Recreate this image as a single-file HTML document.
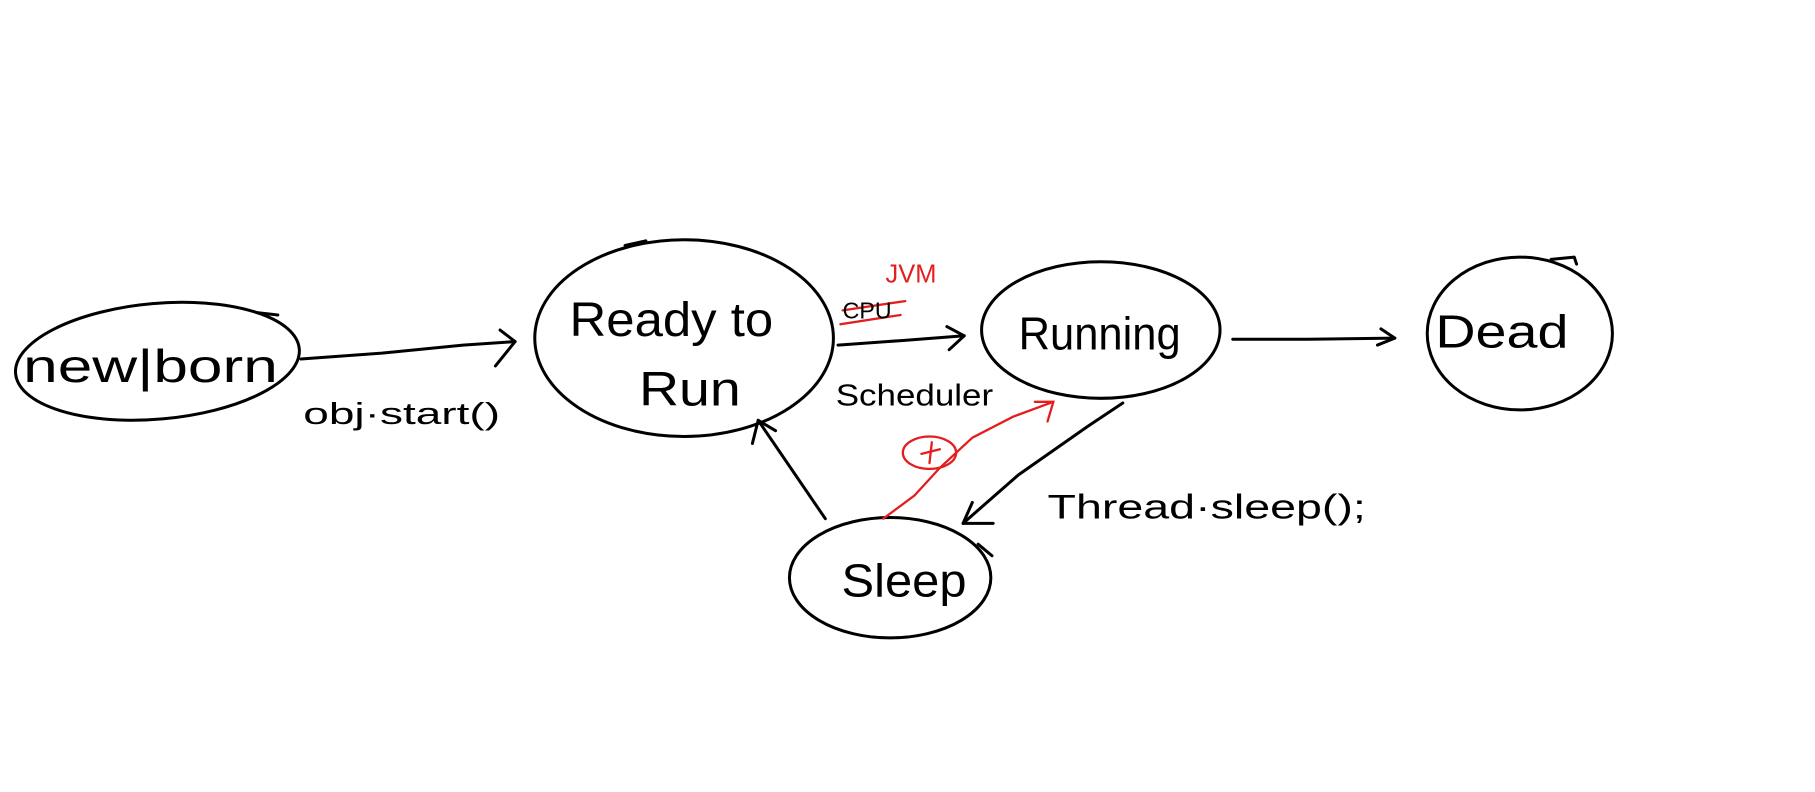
<!DOCTYPE html>
<html><head><meta charset="utf-8"><style>
html,body{margin:0;padding:0;background:#fff;width:1815px;height:792px;overflow:hidden}
svg{display:block}
text{font-family:"Liberation Sans",sans-serif;fill:#000}
</style></head><body>
<svg width="1815" height="792" viewBox="0 0 1568 684" xmlns="http://www.w3.org/2000/svg">
<g fill="none" stroke="#000" stroke-width="2.6" stroke-linecap="round" stroke-linejoin="round">
<ellipse cx="136" cy="312" rx="123" ry="50" transform="rotate(-5 136 312)"/>
<path d="M222 270 L240 272"/>
<ellipse cx="591" cy="292" rx="129" ry="85"/>
<path d="M540 212 L558 208"/>
<ellipse cx="951" cy="285" rx="103" ry="59"/>
<ellipse cx="1313" cy="288" rx="80" ry="66"/>
<path d="M1340 224 L1360 222 L1362 228"/>
<ellipse cx="769" cy="499" rx="87" ry="52"/>
<path d="M845 470 L857 480"/>
<path d="M260 310 L330 305 L400 298 L445 295"/>
<path d="M432 285 L445 295 L428 316"/>
<path d="M724 298 L780 294 L833 290"/>
<path d="M818 282 L833 290 L820 302"/>
<path d="M1065 293 L1130 293 L1205 292"/>
<path d="M1193 284 L1205 292 L1190 298"/>
<path d="M970 348 L940 368 L880 410 L832 452"/>
<path d="M832 452 L858 452 M832 452 L840 434"/>
<path d="M713 448 L655 363"/>
<path d="M650 383 L655 363 L670 372"/>
</g>
<g fill="none" stroke="#e41e1e" stroke-width="2" stroke-linecap="round">
<path d="M763 448 L790 428 L812 404 L840 378 L875 360 L910 347"/>
<path d="M894 347 L910 347 L905 364"/>
<ellipse cx="803" cy="391" rx="23" ry="14"/>
<path d="M796 392 L812 388 M805 382 L803 400"/>
<path d="M728 268 L782 260 M726 280 L778 272"/>
</g>
<text x="20" y="330" font-size="40" textLength="220" lengthAdjust="spacingAndGlyphs">new|born</text>
<text x="262" y="366" font-size="26" textLength="170" lengthAdjust="spacingAndGlyphs">obj·start()</text>
<text x="492" y="290" font-size="42" textLength="176" lengthAdjust="spacingAndGlyphs">Ready to</text>
<text x="552" y="350" font-size="42" textLength="88" lengthAdjust="spacingAndGlyphs">Run</text>
<text x="765" y="244" font-size="22" style="fill:#e41e1e">JVM</text>
<text x="728" y="275" font-size="20">CPU</text>
<text x="722" y="350" font-size="26" textLength="136" lengthAdjust="spacingAndGlyphs">Scheduler</text>
<text x="880" y="302" font-size="40" textLength="140" lengthAdjust="spacingAndGlyphs">Running</text>
<text x="1240" y="300" font-size="40" textLength="115" lengthAdjust="spacingAndGlyphs">Dead</text>
<text x="727" y="515" font-size="40" textLength="108" lengthAdjust="spacingAndGlyphs">Sleep</text>
<text x="905" y="448" font-size="30" textLength="275" lengthAdjust="spacingAndGlyphs">Thread·sleep();</text>
</svg>
</body></html>
